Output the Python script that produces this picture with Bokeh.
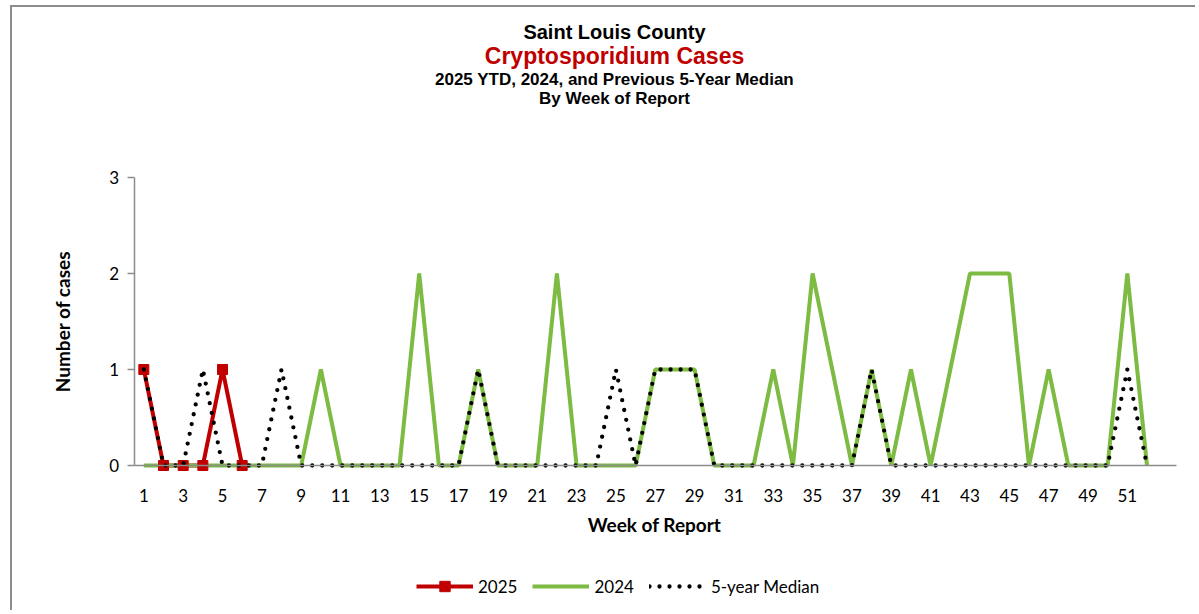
import math
from bokeh.plotting import figure
from bokeh.models import Label, Legend, LegendItem, FixedTicker, Range1d
from bokeh.embed import file_html
from bokeh.resources import INLINE

# ---- data ----
weeks_2025 = [1, 2, 3, 4, 5, 6]
cases_2025 = [1, 0, 0, 0, 1, 0]

weeks_all = list(range(1, 53))
cases_2024 = [0, 0, 0, 0, 0, 0, 0, 0, 0, 1,
              0, 0, 0, 0, 2, 0, 0, 1, 0, 0,
              0, 2, 0, 0, 0, 0, 1, 1, 1, 0,
              0, 0, 1, 0, 2, 1, 0, 1, 0, 1,
              0, 1, 2, 2, 2, 0, 1, 0, 0, 0,
              2, 0]
median_5yr = [1, 0, 0, 1, 0, 0, 0, 1, 0, 0,
              0, 0, 0, 0, 0, 0, 0, 1, 0, 0,
              0, 0, 0, 0, 1, 0, 1, 1, 1, 0,
              0, 0, 0, 0, 0, 0, 0, 1, 0, 0,
              0, 0, 0, 0, 0, 0, 0, 0, 0, 0,
              1, 0]

x_tick_labels = list(range(1, 52, 2))
y_tick_labels = [0, 1, 2, 3]

title_lines = ["Saint Louis County", "Cryptosporidium Cases",
               "2025 YTD, 2024, and Previous 5-Year Median", "By Week of Report"]
x_title = "Week of Report"
y_title = "Number of cases"

RED = "#C00000"
GREEN = "#7DBB42"
GRAY = "#8C8C8C"

# ---- layout (pixels) ----
W, H = 1185, 605
ORG_X, ORG_Y = 12, 7            # canvas origin on page
AX_L, AX_R = 133.5, 1176.0      # page x of axis start / end
AX_TOP, AX_BOT = 177.0, 465.0   # page y of value 3 / value 0
X0, X1 = 0.5, 53.5
Y0, Y1 = 0.0, 3.0
pxw = (AX_R - AX_L) / (X1 - X0)
pxh = (AX_BOT - AX_TOP) / (Y1 - Y0)
x_start = X0 - (AX_L - ORG_X) / pxw
x_end = X1 + (ORG_X + W - AX_R) / pxw
y_start = Y0 - (ORG_Y + H - AX_BOT) / pxh
y_end = Y1 + (AX_TOP - ORG_Y) / pxh


def sx(page_x):
    return page_x - ORG_X


def sy(page_y):
    return ORG_Y + H - page_y


p = figure(width=W, height=H, output_backend="svg", toolbar_location=None,
           title=None, x_range=Range1d(x_start, x_end), y_range=Range1d(y_start, y_end),
           min_border=0)
p.styles = {"margin-left": "10px", "margin-top": "5px",
            "border-left": "2px solid #8d8d8d", "border-top": "2px solid #8d8d8d"}
p.outline_line_color = None
p.xgrid.visible = False
p.ygrid.visible = False
p.background_fill_color = "white"
p.border_fill_color = "white"

# axes
p.xaxis.fixed_location = 0
p.xaxis.bounds = (X0, X1)
p.xaxis.ticker = FixedTicker(ticks=x_tick_labels)
p.xaxis.major_tick_line_color = None
p.xaxis.minor_tick_line_color = None
p.xaxis.axis_line_color = GRAY
p.xaxis.axis_line_width = 1.5
p.xaxis.major_label_text_font = "Lato"
p.xaxis.major_label_text_font_size = "17px"
p.xaxis.major_label_text_color = "black"
p.xaxis.major_label_standoff = 17

p.yaxis.fixed_location = X0
p.yaxis.bounds = (Y0, Y1)
p.yaxis.ticker = FixedTicker(ticks=y_tick_labels)
p.yaxis.major_tick_in = 0
p.yaxis.major_tick_out = 7
p.yaxis.major_tick_line_color = GRAY
p.yaxis.major_tick_line_width = 1.5
p.yaxis.minor_tick_line_color = None
p.yaxis.axis_line_color = GRAY
p.yaxis.axis_line_width = 1.5
p.yaxis.major_label_text_font = "Lato"
p.yaxis.major_label_text_font_size = "17px"
p.yaxis.major_label_text_color = "black"
p.yaxis.major_label_standoff = 8

# series
r_red_line = p.line(weeks_2025, cases_2025, line_color=RED, line_width=4)
r_green = p.line(weeks_all, cases_2024, line_color=GREEN, line_width=4)
r_red_pts = p.scatter(weeks_2025, cases_2025, marker="square", size=10,
                      fill_color=RED, line_color=RED)
r_med = p.line(weeks_all, median_5yr, line_color="black", line_width=4.3,
               line_dash="0 10", line_cap="round")

# titles
title_specs = [
    (title_lines[0], 31.7, "20px", "black"),
    (title_lines[1], 55.5, "23px", RED),
    (title_lines[2], 78.7, "17px", "black"),
    (title_lines[3], 97.5, "17px", "black"),
]
for txt, yy, fs, col in title_specs:
    p.add_layout(Label(x=sx(614), y=sy(yy), x_units="screen", y_units="screen", text=txt,
                       text_align="center", text_baseline="middle",
                       text_font="Liberation Sans", text_font_style="bold",
                       text_font_size=fs, text_color=col))

# axis titles
p.add_layout(Label(x=sx(654), y=sy(524), x_units="screen", y_units="screen", text=x_title,
                   text_align="center", text_baseline="middle", text_font="Lato",
                   text_font_style="bold", text_font_size="19px", text_color="black"))
p.add_layout(Label(x=sx(62), y=sy(321), x_units="screen", y_units="screen", text=y_title,
                   angle=math.pi / 2, text_align="center", text_baseline="middle",
                   text_font="Lato", text_font_style="bold", text_font_size="19px",
                   text_color="black"))

legend = Legend(items=[LegendItem(label="2025", renderers=[r_red_line, r_red_pts]),
                       LegendItem(label="2024", renderers=[r_green]),
                       LegendItem(label="5-year Median", renderers=[r_med])],
                orientation="horizontal", location=(sx(416), sy(599)),
                glyph_width=57, glyph_height=26, label_standoff=5, spacing=15,
                label_text_font="Lato", label_text_font_size="17px",
                label_text_color="black", border_line_color=None,
                background_fill_alpha=0, padding=0, margin=0)
p.add_layout(legend, "center")

open("out.html", "w").write(file_html(p, INLINE))
